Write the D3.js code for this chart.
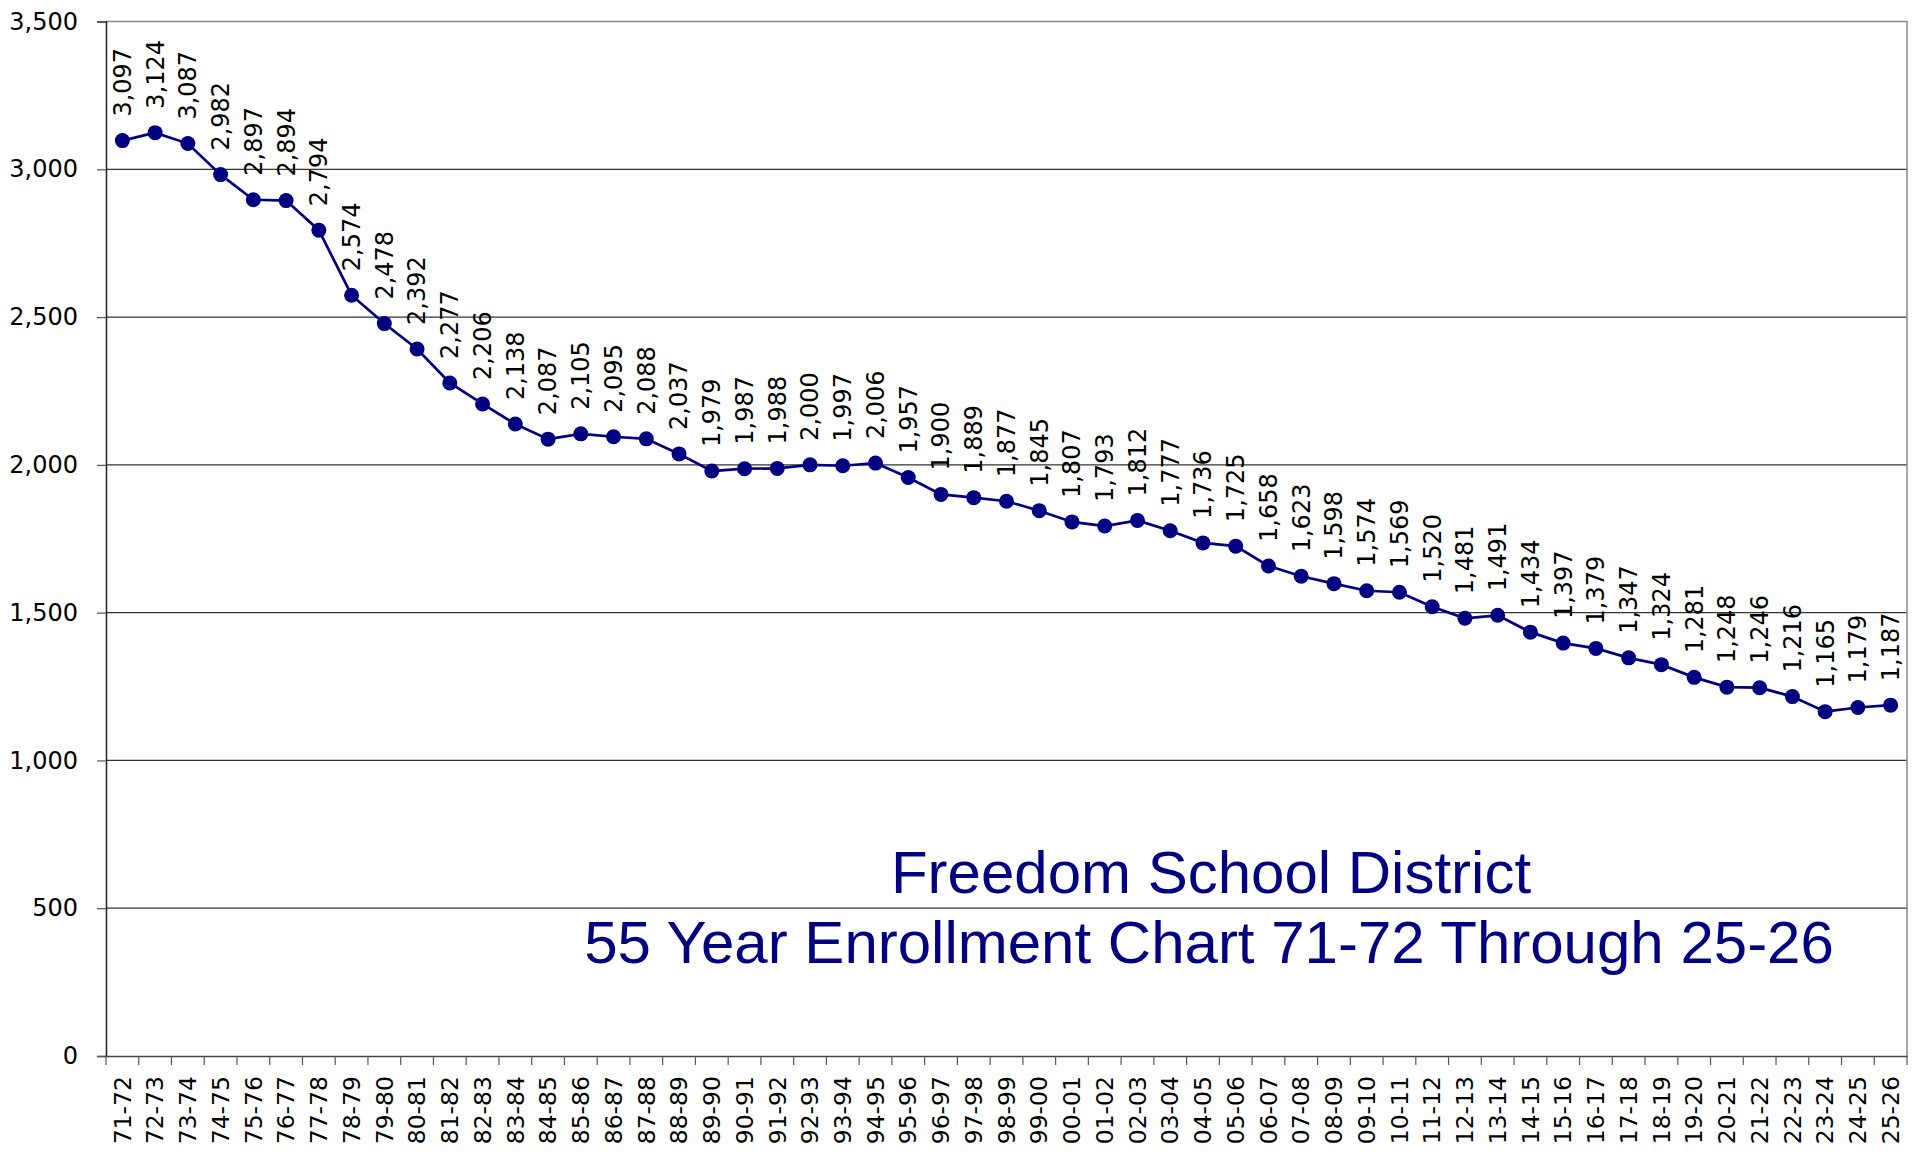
<!DOCTYPE html>
<html>
<head>
<meta charset="utf-8">
<script src="https://cdn.jsdelivr.net/npm/d3@7"></script>
<style>
  body { margin: 0; background: #fff; }
  svg { display: block; }
  .axis text { font-family: "DejaVu Sans", sans-serif; fill: #000; }
</style>
</head>
<body>
<svg id="chart"></svg>
<script>
const years = ['71-72','72-73','73-74','74-75','75-76','76-77','77-78','78-79','79-80','80-81',
  '81-82','82-83','83-84','84-85','85-86','86-87','87-88','88-89','89-90','90-91',
  '91-92','92-93','93-94','94-95','95-96','96-97','97-98','98-99','99-00','00-01',
  '01-02','02-03','03-04','04-05','05-06','06-07','07-08','08-09','09-10','10-11',
  '11-12','12-13','13-14','14-15','15-16','16-17','17-18','18-19','19-20','20-21',
  '21-22','22-23','23-24','24-25','25-26'];

const enrollment = [3097,3124,3087,2982,2897,2894,2794,2574,2478,2392,
  2277,2206,2138,2087,2105,2095,2088,2037,1979,1987,
  1988,2000,1997,2006,1957,1900,1889,1877,1845,1807,
  1793,1812,1777,1736,1725,1658,1623,1598,1574,1569,
  1520,1481,1491,1434,1397,1379,1347,1324,1281,1248,
  1246,1216,1165,1179,1187];

const yTicks = [0, 500, 1000, 1500, 2000, 2500, 3000, 3500];

const titleLines = ['Freedom School District', '55 Year Enrollment Chart 71-72 Through 25-26'];

const data = years.map((y, i) => ({year: y, value: enrollment[i]}));

const config = {
  width: 1923,
  height: 1152,
  margin: {top: 21.5, right: 16, bottom: 96, left: 106}
};
const width = config.width - config.margin.left - config.margin.right;
const height = config.height - config.margin.top - config.margin.bottom;
const navy = '#000080';

const svg = d3.select('#chart')
  .attr('width', config.width)
  .attr('height', config.height);

const chart = svg.append('g')
  .attr('transform', `translate(${config.margin.left},${config.margin.top})`);

const xScale = d3.scaleBand()
  .domain(years)
  .range([0, width])
  .padding(0);

const yScale = d3.scaleLinear()
  .domain([0, 3500])
  .range([height, 0]);

// gridlines
chart.append('g')
  .selectAll('line')
  .data(yTicks.filter(d => d > 0 && d < 3500))
  .join('line')
  .attr('x1', 0)
  .attr('x2', width)
  .attr('y1', d => yScale(d))
  .attr('y2', d => yScale(d))
  .attr('stroke', '#333')
  .attr('stroke-width', 1.2);

// plot border top/right
chart.append('path')
  .attr('d', `M0,0H${width}V${height}`)
  .attr('fill', 'none')
  .attr('stroke', '#888')
  .attr('stroke-width', 1.5);

// y axis
const yAxis = d3.axisLeft(yScale)
  .tickValues(yTicks)
  .tickSize(9)
  .tickPadding(19)
  .tickFormat(d3.format(','));

const yAxisG = chart.append('g')
  .attr('class', 'axis y-axis')
  .call(yAxis);
yAxisG.select('.domain').attr('stroke', '#222').attr('stroke-width', 1.5);
yAxisG.selectAll('.tick line').attr('stroke', '#555').attr('stroke-width', 1.2);
yAxisG.selectAll('.tick text').attr('font-size', 24);

// x axis (labels at band centres)
const xAxis = d3.axisBottom(xScale).tickSize(0).tickPadding(0);
const xAxisG = chart.append('g')
  .attr('class', 'axis x-axis')
  .attr('transform', `translate(0,${height})`)
  .call(xAxis);
xAxisG.select('.domain').attr('stroke', '#444').attr('stroke-width', 1.5);
xAxisG.selectAll('.tick text')
  .attr('font-size', 23.5)
  .attr('transform', 'rotate(-90)')
  .attr('text-anchor', 'end')
  .attr('x', -20)
  .attr('y', 0)
  .attr('dy', '0.35em');

// x ticks at band edges
xAxisG.append('g')
  .selectAll('line')
  .data(years.map(d => xScale(d)).concat([width]))
  .join('line')
  .attr('x1', d => d)
  .attr('x2', d => d)
  .attr('y1', 0)
  .attr('y2', 9)
  .attr('stroke', '#555')
  .attr('stroke-width', 1.2);

const cx = d => xScale(d.year) + xScale.bandwidth() / 2;

// line
chart.append('path')
  .datum(data)
  .attr('fill', 'none')
  .attr('stroke', navy)
  .attr('stroke-width', 2.7)
  .attr('d', d3.line().x(cx).y(d => yScale(d.value)));

// markers
chart.selectAll('.point')
  .data(data)
  .join('circle')
  .attr('class', 'point')
  .attr('cx', cx)
  .attr('cy', d => yScale(d.value))
  .attr('r', 7.5)
  .attr('fill', navy);

// data labels
chart.selectAll('.value-label')
  .data(data)
  .join('text')
  .attr('class', 'value-label')
  .attr('transform', d => `translate(${cx(d)},${yScale(d.value) - 24}) rotate(-90)`)
  .attr('dy', '0.35em')
  .attr('font-family', '"DejaVu Sans", sans-serif')
  .attr('font-size', 24)
  .attr('fill', '#000')
  .text(d => d3.format(',')(d.value));

// title
svg.append('g')
  .selectAll('text')
  .data(titleLines)
  .join('text')
  .attr('x', (d, i) => i === 0 ? 1211 : 1209)
  .attr('y', (d, i) => 893 + i * 70)
  .attr('text-anchor', 'middle')
  .attr('font-family', '"Liberation Sans", Arial, sans-serif')
  .attr('font-size', 60)
  .attr('fill', navy)
  .text(d => d);
</script>
</body>
</html>
